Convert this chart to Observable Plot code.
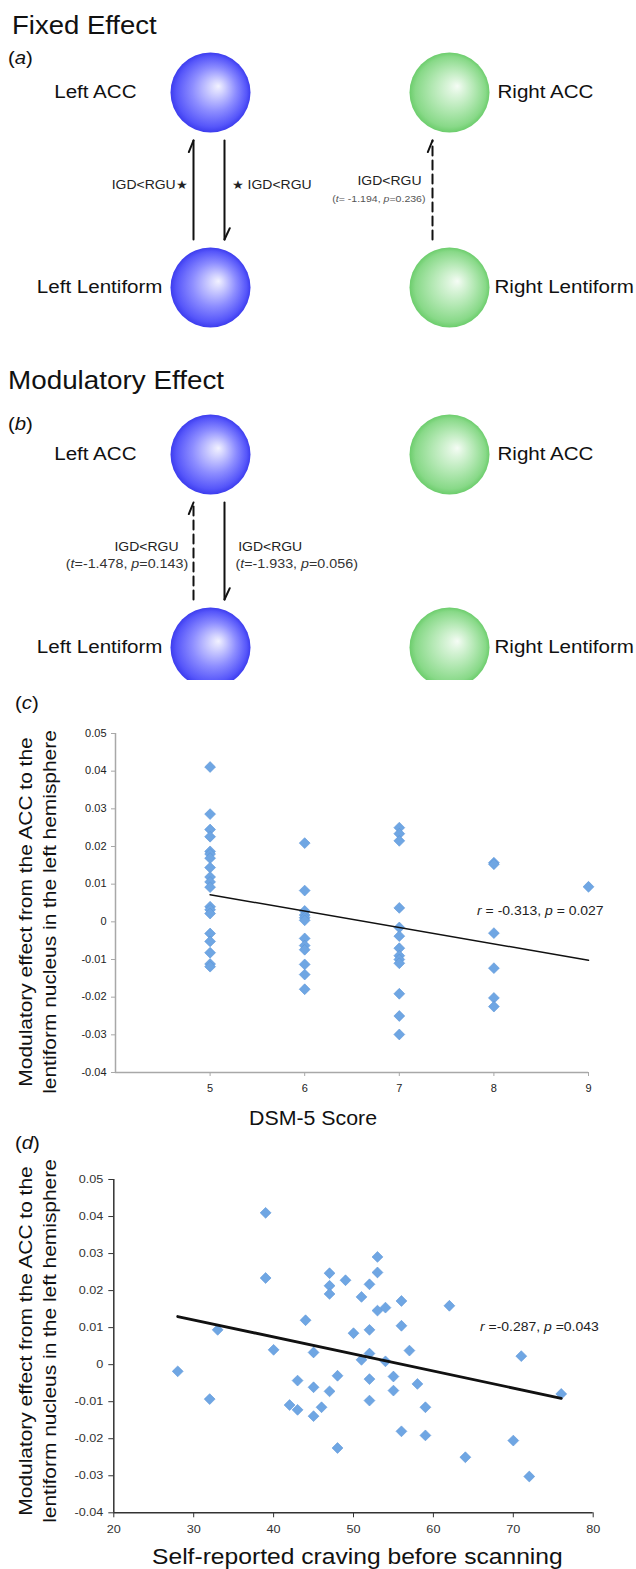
<!DOCTYPE html>
<html>
<head>
<meta charset="utf-8">
<script src="https://cdn.jsdelivr.net/npm/d3@7"></script>
<script src="https://cdn.jsdelivr.net/npm/@observablehq/plot@0.6"></script>
<style>
html,body{margin:0;padding:0;background:#fff;}
#page{position:relative;width:636px;height:1569px;overflow:hidden;background:#fff;font-family:"Liberation Sans",Arial,Helvetica,sans-serif;color:#111;}
.abs{position:absolute;white-space:nowrap;}
#page svg.panel{position:absolute;left:0;background:transparent;}
</style>
</head>
<body>
<svg width="0" height="0" style="position:absolute">
  <defs>
    <radialGradient id="gBlue" cx="0.5" cy="0.5" r="0.5" fx="0.6" fy="0.42">
      <stop offset="0" stop-color="#f2f2ff"/>
      <stop offset="0.18" stop-color="#d2d2ff"/>
      <stop offset="0.55" stop-color="#8c8cff"/>
      <stop offset="0.88" stop-color="#5656fa"/>
      <stop offset="1" stop-color="#3c3cee"/>
    </radialGradient>
    <radialGradient id="gGreen" cx="0.5" cy="0.5" r="0.5" fx="0.6" fy="0.42">
      <stop offset="0" stop-color="#f5fcf5"/>
      <stop offset="0.18" stop-color="#ddf5dd"/>
      <stop offset="0.55" stop-color="#b0e7b0"/>
      <stop offset="0.88" stop-color="#88d988"/>
      <stop offset="1" stop-color="#6ccd6c"/>
    </radialGradient>
  </defs>
</svg>
<div id="page"></div>
<script>
// ---------------- data ----------------
const SIDES = ["Left", "Right"];
const REGIONS = ["ACC", "Lentiform"];

// (a) Fixed effect connections
const fixedSide = ["Left", "Left", "Right"];
const fixedFrom = ["Lentiform", "ACC", "Lentiform"];
const fixedTo   = ["ACC", "Lentiform", "ACC"];
const fixedSig  = [true, true, false];
const fixedT    = [null, null, -1.194];
const fixedP    = [null, null, 0.236];

// (b) Modulatory effect connections
const modSide = ["Left", "Left"];
const modFrom = ["Lentiform", "ACC"];
const modTo   = ["ACC", "Lentiform"];
const modSig  = [false, false];
const modT    = [-1.478, -1.933];
const modP    = [0.143, 0.056];

// (c) DSM-5 score vs modulatory effect
const dsmX = [5,5,5,5,5,5,5,5,5,5,5,5,5,5,5,5,5,5,5,
              6,6,6,6,6,6,6,6,6,6,6,6,
              7,7,7,7,7,7,7,7,7,7,7,7,7,
              8,8,8,8,8,8,
              9];
const dsmY = [0.0411,0.0286,0.0245,0.0226,0.0187,0.0180,0.0169,0.0144,0.0119,0.0106,0.0092,0.0040,0.0032,0.0022,-0.0031,-0.0052,-0.0082,-0.0112,-0.0119,
              0.0209,0.0083,0.0029,0.0018,0.0011,0.0004,-0.0044,-0.0063,-0.0074,-0.0113,-0.0140,-0.0179,
              0.0250,0.0234,0.0215,0.0037,-0.0015,-0.0038,-0.0070,-0.0090,-0.0100,-0.0110,-0.0191,-0.0250,-0.0299,
              0.0157,0.0153,-0.0030,-0.0123,-0.0202,-0.0225,
              0.0093];
const dsmFitX = [5, 9];
const dsmFitY = [0.0072, -0.0102];
const dsmStat = "r = -0.313, p = 0.027";
const dsmStatAt = [9.16, 0.0028];

// (d) craving vs modulatory effect
const cravX = [28,32,33,39,39,40,42,43,43,44,45,45,45,46,47,47,47,47,48,48,49,50,51,51,52,52,52,52,52,53,53,53,54,54,55,55,56,56,56,57,58,59,59,62,64,70,71,72,76];
const cravY = [-0.0018,-0.0093,0.0094,0.0410,0.0234,0.0040,-0.0109,-0.0043,-0.0122,0.0120,0.0033,-0.0061,-0.0139,-0.0115,0.0247,0.0213,0.0191,-0.0072,-0.0030,-0.0225,0.0228,0.0085,0.0183,0.0013,0.0217,0.0094,0.0030,-0.0039,-0.0097,0.0291,0.0249,0.0146,0.0154,0.0009,-0.0032,-0.0070,0.0172,0.0105,-0.0180,0.0038,-0.0052,-0.0115,-0.0191,0.0159,-0.0250,-0.0205,0.0023,-0.0302,-0.0079];
const cravFitX = [28, 76];
const cravFitY = [0.0130, -0.0091];
const cravStat = "r =-0.287, p =0.043";
const cravStatAt = [80.7, 0.0101];

const effectTicks = [-0.04,-0.03,-0.02,-0.01,0,0.01,0.02,0.03,0.04,0.05];
const dsmTicks = [5,6,7,8,9];
const cravTicks = [20,30,40,50,60,70,80];

const yLabel = ["Modulatory effect from the ACC to the", "lentiform nucleus in the left hemisphere"];

// ---------------- helpers ----------------
const page = document.getElementById("page");
const FONT = "'Liberation Sans', Arial, Helvetica, sans-serif";
const SX = 1.1;

function htmlText(html, x, baseline, fs, extra) {
  const d = document.createElement("div");
  d.className = "abs";
  d.style.left = x + "px";
  d.style.top = (baseline - 0.8465 * fs) + "px";
  d.style.fontSize = fs + "px";
  d.style.lineHeight = fs + "px";
  d.style.transform = `scaleX(${SX})`;
  d.style.transformOrigin = "0 0";
  if (extra) Object.assign(d.style, extra);
  d.innerHTML = html;
  page.appendChild(d);
  return d;
}
function rotLabel(lines, cx, cy, fs, lh) {
  const w = 420, h = lines.length * lh;
  const d = document.createElement("div");
  d.className = "abs";
  Object.assign(d.style, {left: (cx - w / 2) + "px", top: (cy - h / 2) + "px", width: w + "px", height: h + "px",
    fontSize: fs + "px", lineHeight: lh + "px", textAlign: "center", transformOrigin: "50% 50%",
    transform: `rotate(-90deg) scaleX(${SX})`, color: "#111"});
  d.innerHTML = lines.join("<br>");
  page.appendChild(d);
}
function finish(svg, top) {
  svg.classList.add("panel");
  svg.style.top = top + "px";
  svg.querySelectorAll("text").forEach(el => {
    const tr = el.getAttribute("transform");
    if (tr) el.setAttribute("transform", tr + ` scale(${SX},1)`);
    if (el.querySelector("tspan")) return;
    const s = el.textContent;
    if (!/[=★]/.test(s)) return;
    let h = s.replace(/&/g, "&amp;").replace(/</g, "&lt;").replace(/>/g, "&gt;");
    h = h.replace(/([rtp])(\s*=)/g, '<tspan font-style="italic">$1</tspan>$2');
    h = h.replace(/★/g, '<tspan font-size="0.92em">★</tspan>');
    el.innerHTML = h;
  });
  page.appendChild(svg);
}

function buildEdges(side, from, to, sig, t, p, statFmt) {
  return side.map((s, i) => {
    const a = REGIONS.indexOf(from[i]), b = REGIONS.indexOf(to[i]);
    const up = b < a;
    return {
      side: s, y1: a, y2: b, mid: (a + b) / 2, up, sig: sig[i],
      dashed: !sig[i] && p[i] >= 0.1,
      label: sig[i] ? (up ? "IGD<RGU★" : "★ IGD<RGU") : "IGD<RGU",
      stats: sig[i] ? "" : statFmt(t[i], p[i])
    };
  });
}

const barb = {draw(ctx, l) { ctx.moveTo(0, 0); ctx.lineTo(0, -l); }};

function diagram(E, rowRange, cfg) {
  const nodes = SIDES.flatMap(s => REGIONS.map((r, i) => ({side: s, row: i, name: `${s} ${r}`})));
  const nodeOf = (s, r) => nodes.filter(d => d.side === s && d.row === r);
  const marks = [
    Plot.dot(nodes.filter(d => d.side === "Left"), {x: "side", y: "row", r: 40, fill: "url(#gBlue)"}),
    Plot.dot(nodes.filter(d => d.side === "Right"), {x: "side", y: "row", r: 40, fill: "url(#gGreen)"}),
    Plot.text(nodeOf("Left", 0), {x: "side", y: "row", text: "name", textAnchor: "end", dx: -74, fontSize: 18.7, fill: "#111"}),
    Plot.text(nodeOf("Left", 1), {x: "side", y: "row", text: "name", textAnchor: "end", dx: -48, fontSize: 18.7, fill: "#111"}),
    Plot.text(nodeOf("Right", 0), {x: "side", y: "row", text: "name", textAnchor: "start", dx: 48, fontSize: 18.7, fill: "#111"}),
    Plot.text(nodeOf("Right", 1), {x: "side", y: "row", text: "name", textAnchor: "start", dx: 45, fontSize: 18.7, fill: "#111"})
  ];
  for (const up of [true, false]) for (const dashed of [true, false]) {
    const data = E.filter(d => d.up === up && d.dashed === dashed);
    if (!data.length) continue;
    const dx = up ? -17 : 14;
    const dash = dashed ? {strokeDasharray: "9,5"} : {};
    marks.push(Plot.arrow(data, {x1: "side", x2: "side", y1: "y1", y2: "y2", dx, insetStart: 48, insetEnd: 48,
      headLength: 0, stroke: "#111", strokeWidth: 2, ...dash}));
    marks.push(Plot.vector(data, {x: "side", y: "y2", dx, dy: up ? 48 : -48, length: 12.5, rotate: up ? 202 : 25,
      anchor: "start", shape: barb, stroke: "#111", strokeWidth: 2}));
  }
  const lab = {x: "side", y: "mid", fontSize: 12.7, fill: "#222"};
  marks.push(
    Plot.text(E.filter(d => d.sig && d.up), {...lab, text: "label", textAnchor: "end", dx: cfg.sigUpDx, dy: cfg.sigDy}),
    Plot.text(E.filter(d => d.sig && !d.up), {...lab, text: "label", textAnchor: "start", dx: cfg.sigDownDx, dy: cfg.sigDy}),
    Plot.text(E.filter(d => !d.sig && d.up), {...lab, text: "label", textAnchor: "end", dx: cfg.upDx, dy: cfg.igdDy}),
    Plot.text(E.filter(d => !d.sig && !d.up), {...lab, text: "label", textAnchor: "start", dx: cfg.downDx, dy: cfg.igdDy}),
    Plot.text(E.filter(d => !d.sig && d.up), {...lab, text: "stats", textAnchor: "end", dx: cfg.upStatDx, dy: cfg.statDy, fontSize: cfg.statSize, fill: cfg.statFill}),
    Plot.text(E.filter(d => !d.sig && !d.up), {...lab, text: "stats", textAnchor: "start", dx: cfg.downStatDx, dy: cfg.statDy, fontSize: cfg.statSize, fill: cfg.statFill})
  );
  return Plot.plot({
    width: 636, height: 340, margin: 0,
    style: {fontFamily: FONT, background: "transparent"},
    x: {type: "point", domain: SIDES, range: [210, 449], padding: 0, axis: null},
    y: {domain: [0, 1], range: rowRange, axis: null},
    marks
  });
}

const fmtEffect = d => d === 0 ? "0" : d.toFixed(2);

function scatter(X, Y, fitX, fitY, stat, statAt, o) {
  const pts = X.map((x, i) => ({x, y: Y[i]}));
  const fit = fitX.map((x, i) => ({x, y: fitY[i]}));
  return Plot.plot({
    width: 636, height: o.height,
    marginLeft: o.ml, marginRight: o.mr, marginTop: o.mt, marginBottom: o.mb,
    style: {fontFamily: FONT, background: "transparent"},
    x: {domain: o.xDomain},
    y: {domain: [-0.04, 0.05]},
    marks: [
      Plot.axisY({ticks: effectTicks, tickFormat: fmtEffect, tickSize: o.tickSize, tickPadding: o.padY,
        stroke: o.axisColor, fill: o.textColor, fontSize: o.fs, label: null}),
      Plot.axisX({ticks: o.xTicks, tickFormat: d => String(d), tickSize: o.tickSize, tickPadding: o.padX,
        stroke: o.axisColor, fill: o.textColor, fontSize: o.fs, label: null}),
      Plot.ruleX([o.xDomain[0]], {stroke: o.axisColor, strokeWidth: o.axisWidth}),
      Plot.ruleY([-0.04], {stroke: o.axisColor, strokeWidth: o.axisWidth}),
      Plot.dot(pts, {x: "x", y: "y", symbol: "diamond2", r: 4.9, fill: "#6fa6e3", stroke: "#5c96d9", strokeWidth: 0.6}),
      Plot.line(fit, {x: "x", y: "y", stroke: "#111", strokeWidth: o.fitWidth}),
      Plot.text([{x: statAt[0], y: statAt[1], t: stat}], {x: "x", y: "y", text: "t", textAnchor: "end", fontSize: 12.7, fill: "#222"})
    ]
  });
}

// ---------------- panels ----------------
const edgesA = buildEdges(fixedSide, fixedFrom, fixedTo, fixedSig, fixedT, fixedP, (t, p) => `(t= ${t}, p=${p})`);
const edgesB = buildEdges(modSide, modFrom, modTo, modSig, modT, modP, (t, p) => `(t=${t}, p=${p})`);

finish(diagram(edgesA, [92, 287], {
  sigUpDx: -23.3, sigDownDx: 21.7, sigDy: -5.5,
  upDx: -28, downDx: 27.7, igdDy: -9.5,
  upStatDx: -24, downStatDx: 25, statDy: 8.8, statSize: 9.6, statFill: "#555"
}), 0);

finish(diagram(edgesB, [114, 307], {
  sigUpDx: -23.3, sigDownDx: 21.7, sigDy: -5.5,
  upDx: -32, downDx: 27.7, igdDy: -4,
  upStatDx: -22.3, downStatDx: 25, statDy: 12.8, statSize: 13, statFill: "#333"
}), 340);

finish(scatter(dsmX, dsmY, dsmFitX, dsmFitY, dsmStat, dsmStatAt, {
  height: 410, ml: 115, mr: 48, mt: 13, mb: 58, xDomain: [4, 9], xTicks: dsmTicks,
  tickSize: 4, padY: 5, padX: 8, axisColor: "#a8a8a8", textColor: "#222", fs: 10, axisWidth: 1.5, fitWidth: 1.5
}), 720);

finish(scatter(cravX, cravY, cravFitX, cravFitY, cravStat, cravStatAt, {
  height: 409, ml: 113.3, mr: 43.3, mt: 19, mb: 56.7, xDomain: [20, 80], xTicks: cravTicks,
  tickSize: 5, padY: 5.5, padX: 7, axisColor: "#333", textColor: "#333", fs: 11.5, axisWidth: 1.5, fitWidth: 2.8
}), 1160);

// ---------------- titles & labels ----------------
htmlText("Fixed Effect", 11.7, 34.5, 25);
htmlText("(<i>a</i>)", 8.3, 65, 18.5);
htmlText("Modulatory Effect", 8.3, 389.5, 25.3);
htmlText("(<i>b</i>)", 8.3, 431, 18.5);
htmlText("(<i>c</i>)", 15, 710, 18.5);
htmlText("DSM-5 Score", 249, 1125, 19.4);
htmlText("(<i>d</i>)", 15, 1150, 18.5);
htmlText("Self-reported craving before scanning", 151.7, 1564.5, 22.4);
rotLabel(yLabel, 38, 912, 19, 24);
rotLabel(yLabel, 38, 1341, 19, 24);
</script>
</body>
</html>
